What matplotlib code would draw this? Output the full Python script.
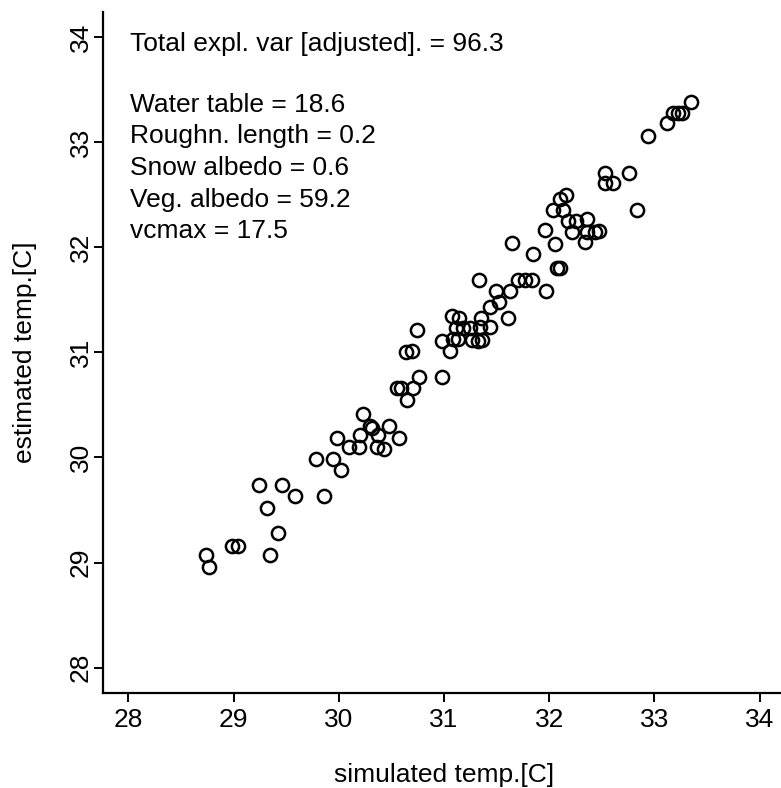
import matplotlib.pyplot as plt

plt.rcParams['font.family'] = ['Liberation Sans', 'DejaVu Sans']

# simulated vs estimated temperature
sim_temp = [28.74, 28.77, 28.99, 29.04, 29.24, 29.32, 29.35, 29.42, 29.46, 29.58,
            29.78, 29.86, 29.98, 29.95, 30.02, 30.10, 30.19, 30.20, 30.23, 30.30,
            30.32, 30.37, 30.36, 30.43, 30.48, 30.57, 30.55, 30.59, 30.71, 30.65,
            30.76, 30.98, 30.64, 30.70, 30.74, 30.98, 31.06, 31.08, 31.14, 31.35,
            31.61, 31.11, 31.18, 31.25, 31.34, 31.44, 31.09, 31.13, 31.27, 31.32,
            31.36, 31.44, 31.52, 31.49, 31.63, 31.33, 31.70, 31.77, 31.84, 31.97,
            31.65, 31.85, 32.05, 32.07, 32.10, 32.04, 32.13, 32.10, 32.16, 32.18,
            32.25, 32.36, 31.96, 32.22, 32.36, 32.43, 32.47, 32.34, 32.83, 32.53,
            32.53, 32.61, 32.76, 32.94, 33.12, 33.18, 33.22, 33.26, 33.35]
est_temp = [29.07, 28.96, 29.16, 29.16, 29.74, 29.52, 29.07, 29.28, 29.74, 29.63,
            29.99, 29.63, 30.19, 29.99, 29.88, 30.10, 30.10, 30.21, 30.41, 30.30,
            30.28, 30.21, 30.10, 30.08, 30.30, 30.19, 30.66, 30.66, 30.66, 30.55,
            30.77, 30.77, 31.00, 31.01, 31.21, 31.11, 31.01, 31.35, 31.33, 31.33,
            31.33, 31.23, 31.23, 31.23, 31.24, 31.24, 31.13, 31.13, 31.12, 31.11,
            31.12, 31.43, 31.48, 31.58, 31.58, 31.69, 31.69, 31.69, 31.69, 31.58,
            32.04, 31.94, 32.03, 31.80, 31.80, 32.35, 32.35, 32.46, 32.50, 32.25,
            32.25, 32.27, 32.16, 32.14, 32.14, 32.14, 32.15, 32.05, 32.35, 32.71,
            32.61, 32.61, 32.71, 33.06, 33.18, 33.28, 33.28, 33.28, 33.38]

ticks = [28, 29, 30, 31, 32, 33, 34]
annot_header = 'Total expl. var [adjusted]. = 96.3'
annot_lines = ['Water table = 18.6', 'Roughn. length = 0.2', 'Snow albedo = 0.6',
               'Veg. albedo = 59.2', 'vcmax = 17.5']

W, H = 781, 788
fig = plt.figure(figsize=(W / 100, H / 100), dpi=100)
ax = fig.add_axes([103 / W, 1 - 693 / H, (785 - 103) / W, (693 - 11.7) / H])

ax.plot(sim_temp, est_temp, linestyle='none', marker='o', markersize=9.5,
        markerfacecolor='none', markeredgecolor='black', markeredgewidth=1.8)

ax.set_xlim(27.76, 34.24)
ax.set_ylim(27.76, 34.24)
ax.set_xticks(ticks)
ax.set_yticks(ticks)
ax.set_xticklabels([str(t) for t in ticks])
ax.set_yticklabels([str(t) for t in ticks], rotation=90, va='center')
ax.tick_params(direction='out', length=6.5, width=1.4, labelsize=19)
ax.tick_params(axis='x', pad=4)
ax.tick_params(axis='y', pad=1)

for side in ['top', 'right']:
    ax.spines[side].set_visible(False)
for side in ['left', 'bottom']:
    ax.spines[side].set_linewidth(1.6)

fig.text(444 / W, 1 - 775 / H, 'simulated temp.[C]', fontsize=19,
         ha='center', va='center')
fig.text(25 / W, 1 - 352 / H, 'estimated temp.[C]', fontsize=19,
         ha='center', va='center', rotation=90)

fig.text(130 / W, 1 - 44 / H, annot_header, fontsize=19, ha='left', va='center')
for i, line in enumerate(annot_lines):
    fig.text(130 / W, 1 - (105 + i * 31.5) / H, line, fontsize=19,
             ha='left', va='center')

fig.savefig('out.png', dpi=100)
